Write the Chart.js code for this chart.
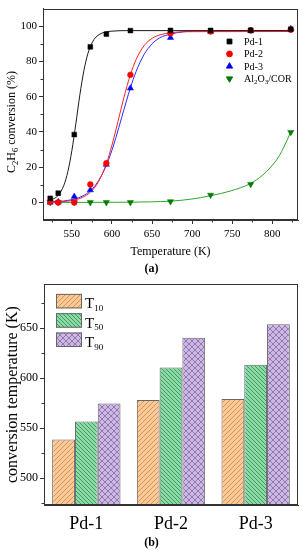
<!DOCTYPE html>
<html>
<head>
<meta charset="utf-8">
<script src="https://cdn.jsdelivr.net/npm/chart.js@4.4.1/dist/chart.umd.min.js"></script>
<style>
html,body{margin:0;padding:0;background:#fff;}
#wrap{position:relative;width:303px;height:550px;overflow:hidden;}
canvas{position:absolute;left:0;}
#cA{top:0;}
#cB{top:275px;}
.cap{position:absolute;left:0;width:303px;height:14px;line-height:14px;text-align:center;
     font:bold 12px "Liberation Serif","Times New Roman",serif;color:#000;}
</style>
</head>
<body>
<div id="wrap">
  <canvas id="cA" width="303" height="275"></canvas>
  <canvas id="cB" width="303" height="275"></canvas>
  <div class="cap" style="top:261px">(a)</div>
  <div class="cap" style="top:535px">(b)</div>
</div>
<script>
"use strict"

// ---- (a) measured points ----
const temps = [523, 533, 553, 573, 593, 623, 673, 723, 773, 823];
const pd1   = [2.3, 5.2, 38.5, 88.3, 95.5, 97.5, 97.6, 97.6, 97.7, 98.3];
const pd2   = [0.4, 0, 0, 10.2, 22.2, 72.4, 96, 97, 97.6, 98];
const pd3   = [0, 0.3, 3.3, 7, 21.5, 64.8, 93.5, 97, 97.5, 98.5];
const alcor = [0, 0, 0, 0, 0, 0, 0.5, 4.2, 10.3, 39.8];

// ---- (a) fitted curves ----
const fitT1 = [523, 533, 540, 545, 550, 555, 560, 565, 570, 575, 580, 590, 600, 620, 823];
const fit1  = [1.1, 4.0, 9.7, 17.5, 29.4, 44.8, 61.1, 74.8, 84.5, 90.4, 93.8, 96.5, 97.2, 97.5, 97.5];
const fitT2 = [523, 540, 553, 563, 573, 583, 593, 600, 605, 610, 615, 623, 630, 640, 650, 660, 673, 700, 823];
const fit2  = [0.1, 0.5, 1.3, 2.8, 5.7, 11.6, 22.0, 32.5, 41.3, 50.6, 59.7, 72.5, 81.0, 88.9, 93.1, 95.1, 96.3, 96.9, 97.0];
const fitT3 = [523, 540, 553, 563, 573, 583, 593, 600, 605, 612, 618, 623, 630, 640, 650, 660, 673, 690, 710, 823];
const fit3  = [0.3, 0.8, 1.9, 3.5, 6.6, 12.1, 21.0, 29.6, 36.9, 48.0, 57.5, 65.0, 74.2, 83.9, 90.0, 93.5, 95.5, 96.9, 97.3, 97.5];
const fitT4 = [520, 573, 623, 648, 673, 698, 723, 748, 773, 788, 798, 808, 815, 823];
const fit4  = [0, 0, 0.1, 0.3, 0.7, 1.8, 3.8, 6.5, 10.8, 15.5, 20, 26, 32, 40];

const xTicksA = [550, 600, 650, 700, 750, 800];
const yTicksA = [0, 20, 40, 60, 80, 100];

// ---- (b) bars ----
const groups = ['Pd-1', 'Pd-2', 'Pd-3'];
const t10 = [538.5, 578, 579];
const t50 = [556.7, 610.5, 613.3];
const t90 = [574.7, 640.4, 653.8];
const yTicksB = [500, 550, 600, 650];

const SERIF = '"Liberation Serif", "Times New Roman", serif';
Chart.defaults.font.family = SERIF;
Chart.defaults.color = '#000';

// text with unicode subscript digits drawn as real small lowered digits
const SUB = '₀₁₂₃₄₅₆₇₈₉';
function richParts(text){
    const parts = [];
    for (const ch of text){
        const i = SUB.indexOf(ch);
        const sub = i >= 0;
        const c = sub ? String(i) : ch;
        const last = parts[parts.length - 1];
        if (last && last.sub === sub) last.t += c;
        else parts.push({t: c, sub: sub});
    }
    return parts;
}
function richWidth(ctx, text, size, subSize){
    let w = 0;
    for (const p of richParts(text)){
        ctx.font = (p.sub ? subSize : size) + 'px ' + SERIF;
        w += ctx.measureText(p.t).width;
    }
    return w;
}
// x = left, y = baseline
function drawRich(ctx, text, x, y, size, subSize, drop){
    ctx.textBaseline = 'alphabetic';
    ctx.textAlign = 'left';
    for (const p of richParts(text)){
        ctx.font = (p.sub ? subSize : size) + 'px ' + SERIF;
        ctx.fillText(p.t, x, p.sub ? y + drop : y);
        x += ctx.measureText(p.t).width;
    }
}

// frame round the plot area and short minor ticks between the major ones
const framePlugin = {
    id: 'frame',
    afterDraw(chart, args, opts){
        const {ctx, chartArea: a} = chart;
        ctx.save();
        ctx.strokeStyle = '#333';
        ctx.lineWidth = 1;
        ctx.strokeRect(Math.round(a.left) + 0.5, Math.round(a.top) + 0.5,
                       Math.round(a.right - a.left) - 1, Math.round(a.bottom - a.top) - 1);
        (opts.minor || []).forEach(function(id){
            const s = chart.scales[id];
            const vals = s.ticks.map(t => t.value);
            const step = vals[1] - vals[0];
            const minor = [];
            for (let v = vals[0] - step / 2; v <= s.max; v += step){
                if (v > s.min && v < s.max) minor.push(v);
            }
            ctx.beginPath();
            minor.forEach(function(v){
                const p = Math.round(s.getPixelForValue(v)) + 0.5;
                if (s.isHorizontal()){
                    ctx.moveTo(p, a.bottom); ctx.lineTo(p, a.bottom + 2.5);
                } else {
                    ctx.moveTo(a.left, p); ctx.lineTo(a.left - 2.5, p);
                }
            });
            ctx.stroke();
        });
        ctx.restore();
    }
};

// legend + rotated y title of chart (a)
const legendA = {
    id: 'legendA',
    afterDraw(chart){
        const {ctx, chartArea: a} = chart;
        ctx.save();
        for (let i = 0; i < 4; i++){
            const ds = chart.data.datasets[i];
            const y = 41.5 + i * 12.4;
            ctx.fillStyle = ds.backgroundColor;
            ctx.strokeStyle = ds.borderColor;
            Chart.helpers.drawPoint(ctx, {
                pointStyle: ds.pointStyle, rotation: ds.pointRotation || 0,
                radius: ds.pointRadius, borderWidth: ds.borderWidth
            }, a.right - 68.5, y);
            ctx.fillStyle = '#000';
            drawRich(ctx, ds.label, a.right - 54, y + 3.5, 10, 7, 2);
        }
        // y title
        const title = 'C₂H₆ conversion (%)';
        const w = richWidth(ctx, title, 12, 8.5);
        ctx.translate(15, 122);
        ctx.rotate(-Math.PI / 2);
        ctx.fillStyle = '#000';
        drawRich(ctx, title, -w / 2, 0, 12, 8.5, 2.5);
        ctx.restore();
    }
};

function pts(label, vals, color, style, rot, r){
    return {
        label: label,
        data: temps.map((t, i) => ({x: t, y: vals[i]})),
        backgroundColor: color, borderColor: color, borderWidth: 0.5,
        pointStyle: style, pointRotation: rot, pointRadius: r,
        showLine: false
    };
}
function fit(xs, vals, color){
    return {
        label: '',
        data: xs.map((t, i) => ({x: t, y: vals[i]})),
        borderColor: color, backgroundColor: color, borderWidth: 1,
        pointRadius: 0, showLine: true, cubicInterpolationMode: 'monotone'
    };
}

new Chart(document.getElementById('cA'), {
    type: 'scatter',
    data: {
        datasets: [
            pts('Pd-1', pd1, '#000000', 'rect', 0, 3.4),
            pts('Pd-2', pd2, '#ff0000', 'circle', 0, 2.9),
            pts('Pd-3', pd3, '#0000ff', 'triangle', 0, 3.6),
            pts('Al₂O₃/COR', alcor, '#007a00', 'triangle', 180, 3.6),
            fit(fitT1, fit1, '#1a1a1a'),
            fit(fitT2, fit2, '#ff2020'),
            fit(fitT3, fit3, '#2a2aff'),
            fit(fitT4, fit4, '#2ca62c')
        ]
    },
    options: {
        responsive: false, animation: false, devicePixelRatio: 1,
        layout: {padding: {left: 0, right: 5, top: 4, bottom: 0}},
        plugins: {
            legend: {display: false}, tooltip: {enabled: false},
            frame: {minor: ['x', 'y']}
        },
        scales: {
            x: {
                type: 'linear', min: 514, max: 832,
                afterBuildTicks: s => { s.ticks = xTicksA.map(v => ({value: v})); },
                afterFit: s => { s.height = 55; },
                grid: {drawOnChartArea: false, tickLength: 4, color: '#333'},
                border: {color: '#333'},
                ticks: {font: {size: 11}, color: '#000', padding: 4, maxRotation: 0},
                title: {display: true, text: 'Temperature (K)', font: {size: 12}, color: '#000',
                        padding: {top: 0, bottom: 16}}
            },
            y: {
                min: -10, max: 110,
                afterBuildTicks: s => { s.ticks = yTicksA.map(v => ({value: v})); },
                afterFit: s => { s.width = 43; },
                grid: {drawOnChartArea: false, tickLength: 4, color: '#333'},
                border: {color: '#333'},
                ticks: {font: {size: 11}, color: '#000', padding: 2}
            }
        }
    },
    plugins: [framePlugin, legendA]
});

// ---- hatch patterns for (b) ----
function hatch(base, line, size, dirs){
    const c = document.createElement('canvas');
    c.width = size; c.height = size;
    const g = c.getContext('2d');
    g.fillStyle = base;
    g.fillRect(0, 0, size, size);
    g.strokeStyle = line;
    g.lineWidth = 0.9;
    g.beginPath();
    if (dirs.indexOf('/') >= 0){
        g.moveTo(0, size); g.lineTo(size, 0);
        g.moveTo(-1, 1); g.lineTo(1, -1);
        g.moveTo(size - 1, size + 1); g.lineTo(size + 1, size - 1);
    }
    if (dirs.indexOf('\\') >= 0){
        g.moveTo(0, 0); g.lineTo(size, size);
        g.moveTo(-1, size - 1); g.lineTo(1, size + 1);
        g.moveTo(size - 1, -1); g.lineTo(size + 1, 1);
    }
    g.stroke();
    return g.createPattern(c, 'repeat');
}
const patT10 = hatch('#fdc997', '#c98c58', 5, '/');
const patT50 = hatch('#8adba6', '#3f8e5c', 4, '\\');
const patT90 = hatch('#cdb7e4', '#8a72a6', 6, '/\\');

const legendB = {
    id: 'legendB',
    afterDraw(chart){
        const {ctx, chartArea: a} = chart;
        ctx.save();
        chart.data.datasets.forEach(function(ds, i){
            const top = a.top + 9.7 + i * 19.3;
            ctx.fillStyle = ds.backgroundColor;
            ctx.fillRect(a.left + 12, top, 26, 14.5);
            ctx.strokeStyle = ds.borderColor;
            ctx.lineWidth = 1;
            ctx.strokeRect(a.left + 12.5, top + 0.5, 25, 13.5);
            ctx.fillStyle = '#000';
            drawRich(ctx, ds.label, a.left + 41, top + 14.5, 15, 9, 2.5);
        });
        ctx.restore();
    }
};

function bars(label, vals, pat){
    return {
        label: label, data: vals, backgroundColor: pat,
        borderColor: '#666666', borderWidth: 1, borderSkipped: false,
        categoryPercentage: 0.807, barPercentage: 1
    };
}

new Chart(document.getElementById('cB'), {
    type: 'bar',
    data: {
        labels: groups,
        datasets: [
            bars('T₁₀', t10, patT10),
            bars('T₅₀', t50, patT50),
            bars('T₉₀', t90, patT90)
        ]
    },
    options: {
        responsive: false, animation: false, devicePixelRatio: 1,
        layout: {padding: {left: 0, right: 5, top: 1, bottom: 0}},
        plugins: {
            legend: {display: false}, tooltip: {enabled: false},
            frame: {minor: ['y']}
        },
        scales: {
            x: {
                afterFit: s => { s.height = 45; },
                grid: {display: false},
                border: {color: '#333'},
                ticks: {font: {size: 18}, color: '#000', padding: 0}
            },
            y: {
                min: 473, max: 694,
                afterBuildTicks: s => { s.ticks = yTicksB.map(v => ({value: v})); },
                afterFit: s => { s.width = 44; },
                grid: {drawOnChartArea: false, tickLength: 4, color: '#333'},
                border: {color: '#333'},
                ticks: {font: {size: 12}, color: '#000', padding: 2},
                title: {display: true, text: 'conversion temperature (K)', font: {size: 16},
                        color: '#000', padding: {top: 3, bottom: 0}}
            }
        }
    },
    plugins: [framePlugin, legendB]
});
</script>
</body>
</html>
